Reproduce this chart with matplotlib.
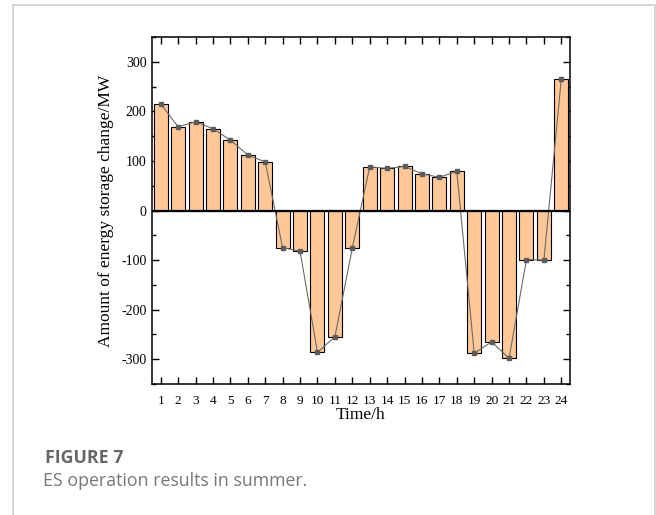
import matplotlib
matplotlib.use("Agg")
import matplotlib.pyplot as plt
from matplotlib.patches import Rectangle
from matplotlib.ticker import MultipleLocator

# Hourly energy-storage change (MW), summer day
hours = list(range(1, 25))
es_change = [215, 169, 179, 165, 142, 112, 98, -75, -82, -286, -255, -76,
             88, 85, 89, 74, 67, 79, -288, -265, -298, -99, -100, 265]
x_tick_labels = [str(h) for h in hours]
y_ticks = [-300, -200, -100, 0, 100, 200, 300]

plt.rcParams["axes.unicode_minus"] = False
serif = ["Liberation Serif", "DejaVu Serif"]

W, H = 656, 515
fig = plt.figure(figsize=(W / 100, H / 100), dpi=100)

# Light frame around the figure panel
frame = Rectangle((13 / W, -0.1), (655 - 13) / W, 1.1 - 5 / H,
                  transform=fig.transFigure, fill=False,
                  edgecolor="#d2d2d2", linewidth=1.3)
fig.patches.append(frame)

ax = fig.add_axes([152 / W, 1 - 384 / H, (570 - 152) / W, (384 - 37) / H])

ax.bar(hours, es_change, width=0.8, color="#FFC896", edgecolor="black",
       linewidth=0.8, zorder=2)
ax.plot(hours, es_change, color="#6a6a6a", linewidth=0.8, marker="s",
        markersize=2.3, markerfacecolor="#5c5c5c", markeredgecolor="#5c5c5c",
        zorder=3)
ax.axhline(0, color="black", linewidth=1.6, zorder=4)

ax.set_xlim(0.5, 24.5)
ax.set_ylim(-350, 350)
ax.set_xticks(hours)
ax.set_xticklabels(x_tick_labels, fontfamily=serif, fontsize=9.6)
ax.set_yticks(y_ticks)
ax.set_yticklabels([str(v) for v in y_ticks], fontfamily=serif, fontsize=10)
ax.yaxis.set_minor_locator(MultipleLocator(50))

ax.tick_params(axis="both", which="major", direction="in", length=5,
               width=1.0, top=True, right=True, pad=4)
ax.tick_params(axis="y", which="minor", direction="in", length=3,
               width=1.0, right=True)
ax.tick_params(axis="x", which="major", pad=8)

for sp in ax.spines.values():
    sp.set_linewidth(1.1)

ax.set_xlabel("Time/h", fontfamily=serif, fontsize=12.5, labelpad=0)
ax.set_ylabel("Amount of energy storage change/MW", fontfamily=serif,
              fontsize=12.5, labelpad=5)

# Caption
fig.text(45 / W, 1 - 458 / H, "FIGURE 7", fontfamily="Open Sans",
         fontweight="bold", fontsize=12.8, color="#666666", va="center",
         ha="left")
fig.text(43 / W, 1 - 481 / H, "ES operation results in summer.",
         fontfamily="Open Sans", fontsize=12.8, color="#777777",
         va="center", ha="left")

fig.savefig("out.png", dpi=100, facecolor="white")
